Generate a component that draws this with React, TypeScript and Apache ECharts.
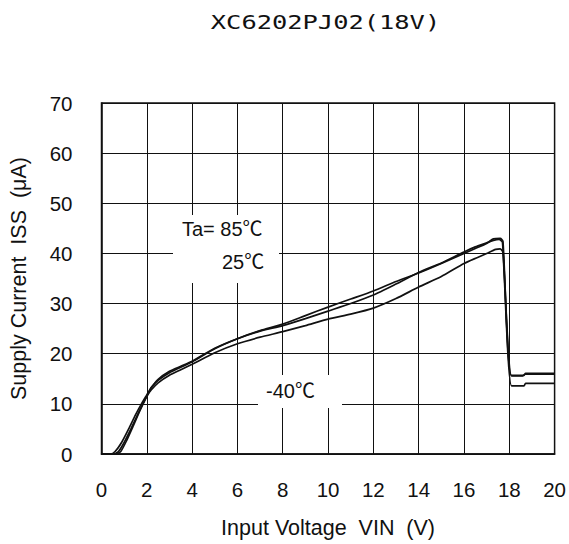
import React, { useEffect, useRef } from "react";
import * as echarts from "echarts";

// ---- data ----
const title = "XC6202PJ02(18V)";
const xName = "Input Voltage  VIN  (V)";
const yName = "Supply Current  ISS  (μA)";
const xTicks = { min: 0, max: 20, interval: 2 };
const yTicks = { min: 0, max: 70, interval: 10 };

// Ta = 85 ℃  [VIN (V), ISS (μA)]
const curve85: [number, number][] = [
  [0, 0], [0.4, 0], [0.6, 0.5], [0.9, 2.4], [1.2, 5.0], [1.5, 7.8], [1.8, 10.3], [2.0, 11.8],
  [2.2, 13.3], [2.5, 14.7], [3.0, 16.2], [3.5, 17.3], [4.0, 18.4], [5, 21.0], [6, 23.0],
  [7, 24.6], [8, 25.9], [9, 27.6], [10, 29.3], [11, 30.9], [12, 32.5], [13, 34.4], [14, 36.1],
  [15, 38.0], [16, 40.0], [16.5, 41.0], [17, 42.0], [17.3, 42.9], [17.6, 43.0], [17.72, 42.4],
  [18.08, 15.7], [18.65, 15.7], [18.72, 16.1], [20, 16.1],
];
// Ta = 25 ℃
const curve25: [number, number][] = [
  [0, 0], [0.55, 0], [0.75, 0.5], [1.0, 2.3], [1.3, 5.0], [1.6, 7.9], [1.9, 10.6], [2.0, 11.5],
  [2.2, 13.2], [2.5, 14.9], [3.0, 16.5], [3.5, 17.5], [4.0, 18.5], [5, 21.1], [6, 23.0],
  [7, 24.5], [8, 25.6], [9, 27.0], [10, 28.5], [11, 30.0], [12, 31.7], [13, 33.9], [14, 36.2],
  [15, 38.1], [16, 40.3], [16.5, 41.3], [17, 42.1], [17.3, 42.6], [17.55, 42.8], [17.7, 42.2],
  [18.1, 15.6], [18.6, 15.6], [18.68, 15.9], [20, 15.9],
];
// Ta = -40 ℃
const curveM40: [number, number][] = [
  [0, 0], [0.65, 0], [0.85, 0.5], [1.1, 2.6], [1.4, 5.6], [1.7, 8.7], [2.0, 11.5], [2.2, 12.8],
  [2.5, 14.2], [3.0, 15.7], [3.5, 16.8], [4, 17.9], [5, 20.2], [6, 22.0], [7, 23.3], [8, 24.4],
  [9, 25.6], [10, 26.9], [11, 27.9], [12, 29.1], [13, 31.0], [14, 33.3], [15, 35.4], [16, 38.0],
  [16.6, 39.2], [17, 40.0], [17.4, 40.8], [17.6, 40.9], [17.72, 40.2], [18.1, 13.6],
  [18.65, 13.6], [18.72, 14.1], [20, 14.1],
];
const seriesNames = ["85℃", "25℃", "-40℃"];
const labelTa85 = "Ta= 85℃";
const label25 = "25℃";
const labelM40 = "-40℃";

const FONT = "'Liberation Sans', Arial, 'Noto Sans CJK JP', sans-serif";

export default function App() {
  const ref = useRef<HTMLDivElement>(null);
  useEffect(() => {
    if (!ref.current) return;
    const chart = echarts.init(ref.current, undefined, { renderer: "svg" });
    const lineSeries = (name: string, data: [number, number][]) => ({
      name,
      type: "line",
      data,
      showSymbol: false,
      symbol: "none",
      smooth: 0.2,
      lineStyle: { color: "#111", width: 1.7 },
      z: 3,
    });
    const textStyle = (text: string) => ({
      text,
      fontFamily: FONT,
      fontSize: 20,
      fill: "#111",
      textAlign: "left",
      textVerticalAlign: "middle",
      align: "left",
      verticalAlign: "middle",
    });
    chart.setOption({
      animation: false,
      backgroundColor: "#fff",
      grid: {
        left: 100,
        right: 11,
        top: 103,
        bottom: 90,
        show: true,
        borderColor: "#111",
        borderWidth: 1.5,
      },
      xAxis: {
        type: "value",
        min: xTicks.min,
        max: xTicks.max,
        interval: xTicks.interval,
        name: xName,
        nameLocation: "middle",
        nameGap: 63,
        nameTextStyle: { fontFamily: FONT, fontSize: 21.5, color: "#111" },
        axisLine: { show: true, lineStyle: { color: "#111", width: 1.5 } },
        axisTick: { show: false },
        axisLabel: { fontFamily: FONT, fontSize: 20.5, color: "#111", margin: 25 },
        splitLine: { show: true, lineStyle: { color: "#111", width: 1 } },
      },
      yAxis: {
        type: "value",
        min: yTicks.min,
        max: yTicks.max,
        interval: yTicks.interval,
        name: yName,
        nameLocation: "middle",
        nameGap: 72,
        nameTextStyle: { fontFamily: FONT, fontSize: 21.5, color: "#111" },
        axisLine: { show: true, lineStyle: { color: "#111", width: 1.5 } },
        axisTick: { show: false },
        axisLabel: { fontFamily: FONT, fontSize: 20.5, color: "#111", margin: 29 },
        splitLine: { show: true, lineStyle: { color: "#111", width: 1 } },
      },
      series: [
        lineSeries(seriesNames[0], curve85),
        lineSeries(seriesNames[1], curve25),
        lineSeries(seriesNames[2], curveM40),
      ],
      graphic: [
        {
          type: "text",
          x: 325.5,
          y: 22,
          scaleX: 1.27,
          z: 100,
          style: {
            text: title,
            fontFamily: "'DejaVu Sans Mono', monospace",
            fontSize: 20,
            fill: "#111",
            textAlign: "center",
            textVerticalAlign: "middle",
            align: "center",
            verticalAlign: "middle",
          },
        },
        { type: "rect", shape: { x: 173, y: 215, width: 106, height: 68 }, style: { fill: "#fff" }, z: 90 },
        { type: "rect", shape: { x: 258, y: 375, width: 84, height: 33 }, style: { fill: "#fff" }, z: 90 },
        { type: "text", x: 182, y: 229, z: 100, style: textStyle(labelTa85) },
        { type: "text", x: 222, y: 262, z: 100, style: textStyle(label25) },
        { type: "text", x: 266, y: 391, z: 100, style: textStyle(labelM40) },
      ],
    });
    return () => chart.dispose();
  }, []);
  return (
    <div
      ref={ref}
      style={{ position: "fixed", left: 0, top: 0, width: 569, height: 544, background: "#fff" }}
    />
  );
}
